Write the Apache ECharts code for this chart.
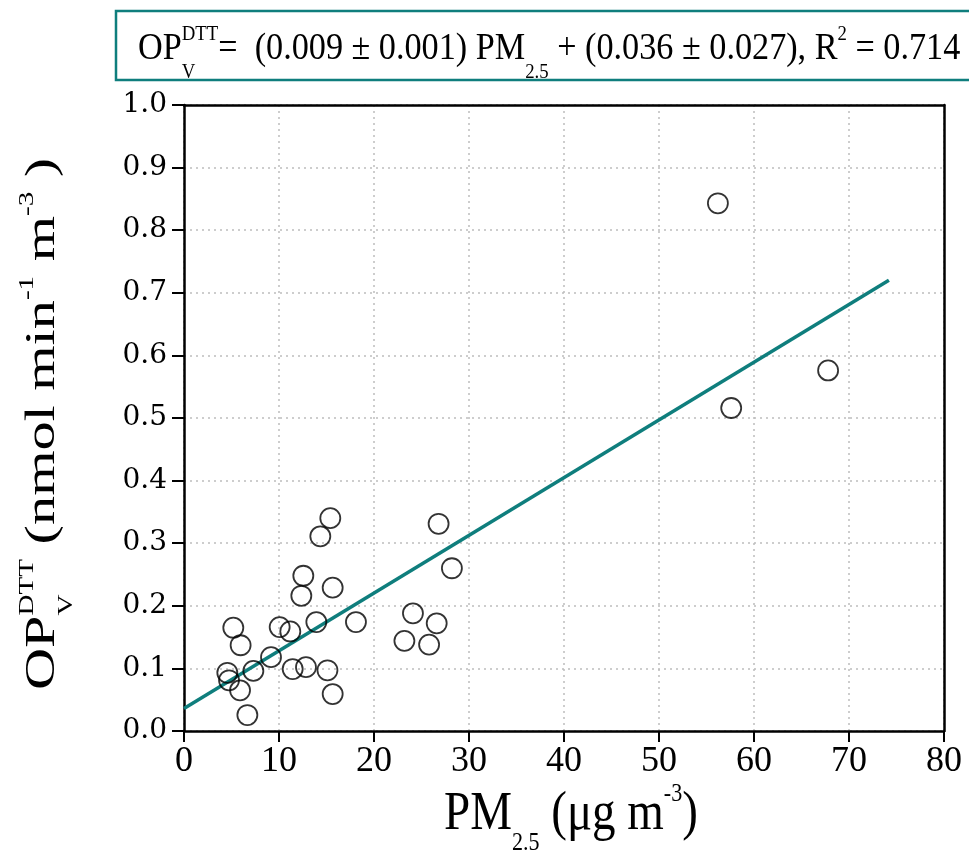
<!DOCTYPE html>
<html>
<head>
<meta charset="utf-8">
<script src="https://cdn.jsdelivr.net/npm/echarts@6/dist/echarts.min.js"></script>
<style>html,body{margin:0;padding:0;background:#fff}#c{width:969px;height:857px}</style>
</head>
<body>
<div id="c"></div>
<script>
// ---- data ----
const pmX = [15.4, 14.35, 12.56, 12.35, 15.65, 26.8, 28.2, 5.19, 5.96, 10.07, 11.19, 13.93, 18.1, 24.1, 26.6, 23.2, 25.8, 9.16, 7.3, 11.44, 12.84, 15.1, 4.56, 4.74, 5.9, 15.65, 6.67, 56.2, 67.8, 57.6];
const opY = [0.340, 0.311, 0.248, 0.216, 0.229, 0.331, 0.260, 0.165, 0.137, 0.166, 0.159, 0.174, 0.174, 0.188, 0.172, 0.144, 0.138, 0.118, 0.096, 0.099, 0.102, 0.097, 0.093, 0.081, 0.065, 0.059, 0.0255, 0.843, 0.576, 0.516];
const fitX = [0, 74.2];
const fitY = [0.036, 0.72];
const xTicks = [0, 10, 20, 30, 40, 50, 60, 70, 80];
const yTicks = [0.0, 0.1, 0.2, 0.3, 0.4, 0.5, 0.6, 0.7, 0.8, 0.9, 1.0];

const TEAL = '#0f7e7d';
const SERIF = '"Liberation Serif", "Times New Roman", serif';

// ---- text run helper (sub/superscripts) ----
const mctx = document.createElement('canvas').getContext('2d');
function tw(t, size) { mctx.font = size + 'px ' + SERIF; return mctx.measureText(t).width; }
function txt(t, x, base, size) {
  return { type: 'text', x: x, y: base - 0.34 * size,
    style: { text: t, fontSize: size, fontFamily: SERIF, fontWeight: 'normal', fill: '#000', align: 'left', verticalAlign: 'middle', textAlign: 'left', textVerticalAlign: 'middle' } };
}
function run(parts, F, o) {
  let x = 0; const ch = [];
  parts.forEach(p => {
    if (p.stack) {
      const s = F * o.ss;
      ch.push(txt(p.sup, x, -F * o.up, s));
      ch.push(txt(p.sub, x, F * o.dn, s));
      x += Math.max(tw(p.sup, s), tw(p.sub, s));
    } else if (p.sup) {
      const s = F * o.ss; ch.push(txt(p.sup, x, -F * o.up, s)); x += tw(p.sup, s);
    } else if (p.sub) {
      const s = F * o.ss; ch.push(txt(p.sub, x, F * o.dn, s)); x += tw(p.sub, s);
    } else {
      ch.push(txt(p.t, x, 0, F)); x += tw(p.t, F);
    }
  });
  return ch;
}

const eqParts = [
  { t: 'OP' }, { stack: true, sup: 'DTT', sub: 'V' },
  { t: '=  (0.009 \u00b1 0.001) PM' }, { sub: '2.5' },
  { t: ' + (0.036 \u00b1 0.027), R' }, { sup: '2' }, { t: ' = 0.714' }
];
const xtParts = [{ t: 'PM' }, { sub: '2.5' }, { t: ' (\u03bcg m' }, { sup: '-3' }, { t: ')' }];
const ytParts = [{ t: 'OP' }, { stack: true, sup: 'DTT', sub: 'V' }, { t: ' (nmol min' }, { sup: '-1' }, { t: ' m' }, { sup: '-3' }, { t: ' )' }];

const frameAxis = { axisLine: { onZero: false, lineStyle: { color: '#000', width: 2.5 } },
  axisTick: { show: false }, axisLabel: { show: false }, splitLine: { show: false } };

const chart = echarts.init(document.getElementById('c'), null, { renderer: 'canvas' });
chart.setOption({
  animation: false,
  backgroundColor: '#fff',
  grid: { left: 184, top: 105, width: 760, height: 626 },
  xAxis: [{
    type: 'value', min: 0, max: 80, interval: 10,
    axisLine: { onZero: false, lineStyle: { color: '#000', width: 2.5 } },
    axisTick: { length: 11, lineStyle: { color: '#000', width: 2 } },
    axisLabel: { margin: 13, color: '#000', fontFamily: SERIF, fontSize: 36,
      formatter: v => xTicks.indexOf(v) >= 0 ? String(v) : '' },
    splitLine: { show: true, lineStyle: { color: '#bdbdbd', type: [2, 4], width: 1.5 } }
  }, Object.assign({ type: 'value', min: 0, max: 80, position: 'top' }, frameAxis)],
  yAxis: [{
    type: 'value', min: 0, max: 1, interval: 0.1,
    axisLine: { onZero: false, lineStyle: { color: '#000', width: 2.5 } },
    axisTick: { length: 12, lineStyle: { color: '#000', width: 2 } },
    axisLabel: { margin: 17, color: '#000', fontFamily: '"DejaVu Serif", serif', fontSize: 28,
      formatter: v => { const t = yTicks.find(k => Math.abs(k - v) < 1e-9); return t === undefined ? '' : t.toFixed(1); } },
    splitLine: { show: true, lineStyle: { color: '#bdbdbd', type: [2, 4], width: 1.5 } }
  }, Object.assign({ type: 'value', min: 0, max: 1, position: 'right' }, frameAxis)],
  series: [
    { type: 'line', data: fitX.map((x, i) => [x, fitY[i]]), symbol: 'none',
      lineStyle: { color: TEAL, width: 3.5 }, z: 2 },
    { type: 'scatter', data: pmX.map((x, i) => [x, opY[i]]), symbol: 'circle', symbolSize: 20,
      itemStyle: { color: 'rgba(0,0,0,0)', borderColor: '#000', borderWidth: 1.8 }, z: 3 }
  ],
  graphic: [
    { type: 'rect', shape: { x: 116, y: 11, width: 900, height: 69 },
      style: { fill: '#fff', stroke: TEAL, lineWidth: 2.5 } },
    { type: 'group', x: 138, y: 62, scaleX: 0.9,
      children: run(eqParts, 38, { ss: 0.55, up: 0.53, dn: 0.47 }) },
    { type: 'group', x: 444, y: 833, scaleX: 0.87,
      children: run(xtParts, 54, { ss: 0.47, up: 0.56, dn: 0.36 }) },
    { type: 'group', x: 57, y: 690, rotation: Math.PI / 2, scaleX: 1.12, scaleY: 0.8,
      children: run(ytParts, 52, { ss: 0.5, up: 0.55, dn: 0.4 }) }
  ]
});
</script>
</body>
</html>
